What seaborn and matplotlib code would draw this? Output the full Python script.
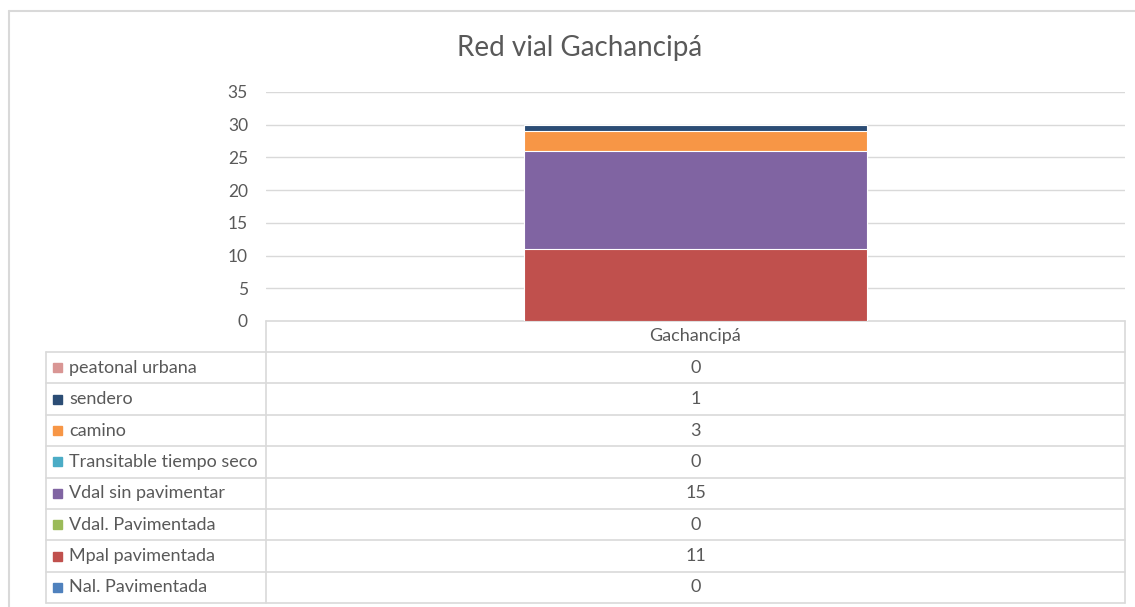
import numpy as np
import pandas as pd
import matplotlib
matplotlib.use("Agg")
import matplotlib.pyplot as plt
import seaborn as sns

# series from bottom of the stack to top
series = ["Nal. Pavimentada", "Mpal pavimentada", "Vdal. Pavimentada", "Vdal sin pavimentar",
          "Transitable tiempo seco", "camino", "sendero", "peatonal urbana"]
values = [0, 11, 0, 15, 0, 3, 1, 0]
colors = ["#4F81BD", "#C0504D", "#9BBB59", "#8064A2", "#4BACC6", "#F79646", "#2C4D75", "#D99694"]
category = "Gachancipá"
title = "Red vial Gachancipá"

TXT = "#595959"
GRID = "#D9D9D9"
W, H = 1135, 607

sns.set_theme(style="white")
plt.rcParams["font.family"] = ["Lato", "DejaVu Sans"]

fig = plt.figure(figsize=(W / 100, H / 100), dpi=100)

# plot area in pixel coords
x0, x1, y0, y1 = 266, 1125, 92, 321
ax = fig.add_axes([x0 / W, 1 - y1 / H, (x1 - x0) / W, (y1 - y0) / H])

df = pd.DataFrame({"serie": series, "valor": values, "color": colors})
df["acum"] = df["valor"].cumsum()

# stacked bar: draw cumulative totals from the top down
for _, row in df.iloc[::-1].iterrows():
    if row["valor"] == 0:
        continue
    sns.barplot(x=[category], y=[row["acum"]], color=row["color"], width=0.4,
                saturation=1, edgecolor="white", linewidth=0.8, ax=ax, zorder=3)

ax.set_ylim(0, 35)
ax.set_yticks(np.arange(0, 36, 5))
ax.set_xlim(-0.5, 0.5)
ax.set_xticks([])
ax.set_xlabel("")
ax.set_ylabel("")
for s in ax.spines.values():
    s.set_visible(False)
for t in np.arange(5, 36, 5):
    ax.axhline(t, color=GRID, lw=1, zorder=1)
ax.tick_params(axis="y", length=0, pad=13, labelsize=12.5, labelcolor=TXT)
ax.patch.set_alpha(0)

fig.text(580 / W, 1 - 48 / H, title, ha="center", va="center", fontsize=20, color=TXT)

# data table underneath, drawn in pixel coords
tab = fig.add_axes([0, 0, 1, 1], zorder=-1)
tab.set_xlim(0, W)
tab.set_ylim(H, 0)
tab.axis("off")

# chart border (top + left)
tab.plot([9, W], [11, 11], color=GRID, lw=1.5)
tab.plot([9, 9], [11, H], color=GRID, lw=1.5)

lx, mx, rx = 46, 266, 1125
top, hdr = 321, 352
row_h = (603.2 - hdr) / len(series)

tab.plot([mx, rx], [top, top], color=GRID, lw=1.2)
tab.plot([mx, mx], [top, hdr + row_h * len(series)], color=GRID, lw=1.2)
tab.plot([rx, rx], [top, hdr + row_h * len(series)], color=GRID, lw=1.2)
tab.plot([lx, lx], [hdr, hdr + row_h * len(series)], color=GRID, lw=1.2)
for i in range(len(series) + 1):
    yy = hdr + i * row_h
    tab.plot([lx, rx], [yy, yy], color=GRID, lw=1.2)

tab.text((mx + rx) / 2, (top + hdr) / 2, category, ha="center", va="center",
         fontsize=13, color=TXT)

for i, (name, val, col) in enumerate(zip(series[::-1], values[::-1], colors[::-1])):
    yc = hdr + (i + 0.5) * row_h
    tab.add_patch(plt.Rectangle((53, yc - 4.5), 9, 9, color=col))
    tab.text(69, yc, name, ha="left", va="center", fontsize=13, color=TXT)
    tab.text((mx + rx) / 2, yc, str(val), ha="center", va="center", fontsize=13, color=TXT)

fig.savefig("out.png", dpi=100, facecolor="white")
